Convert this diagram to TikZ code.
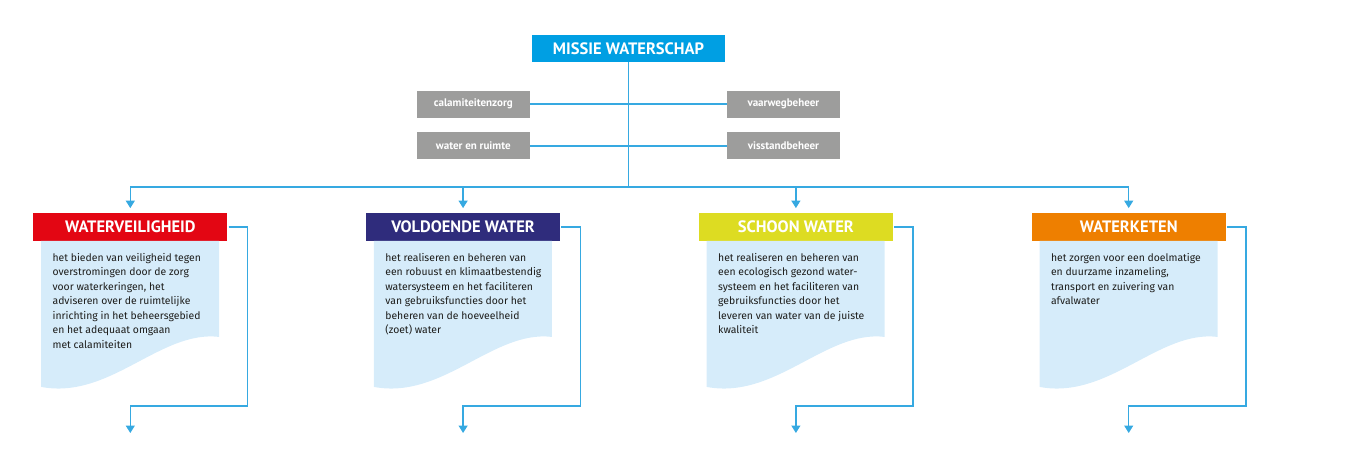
\documentclass[tikz,border=0pt]{standalone}
\usepackage{fontspec}
\setmainfont{PT Sans}
\newfontfamily\bladfont{Fira Sans}
\usetikzlibrary{positioning, arrows.meta, calc}
\definecolor{missieblauw}{HTML}{009FE3}
\definecolor{lijnblauw}{HTML}{36A9E1}
\definecolor{taakgrijs}{HTML}{9D9D9C}
\definecolor{blad}{HTML}{D6ECFA}
\definecolor{tekstzwart}{HTML}{1D1D1B}
\definecolor{veiligrood}{HTML}{E30613}
\definecolor{voldoendeblauw}{HTML}{2F2C7C}
\definecolor{schoongeel}{HTML}{DDDC22}
\definecolor{ketenoranje}{HTML}{EE7F00}
\tikzset{
	missie/.style={fill=missieblauw, text=white, minimum width=193pt, minimum height=27pt, inner sep=0pt, font=\bfseries\fontsize{16.5}{18}\selectfont}, % the mission box on top
	taak/.style={fill=taakgrijs, text=white, minimum width=113pt, minimum height=27pt, inner sep=0pt, font=\bfseries\fontsize{11}{12}\selectfont}, % grey task boxes
	kop/.style={text=white, minimum width=194pt, minimum height=27.4pt, inner sep=0pt, font=\bfseries\fontsize{16.5}{18}\selectfont}, % coloured headings
	tekst/.style={anchor=north west, inner sep=0pt, align=left, text=tekstzwart, font=\bladfont\fontsize{10.4}{14.5}\selectfont}, % text on the pages
	lijn/.style={draw=lijnblauw, line width=1.3pt}, % plain connector
	stroom/.style={lijn, -{Triangle[width=9pt, length=7.5pt]}}, % connector with arrow head
}

\begin{document}
\begin{tikzpicture}[x=1pt, y=-1pt]
	\useasboundingbox (0,0) rectangle (1347,451);

	\node[missie] (missie) at (628.5,48.5) {MISSIE WATERSCHAP};
	\node[taak] (calamiteit) at (473.3,104) {calamiteitenzorg};
	\node[taak, below=14.5pt of calamiteit] (ruimte) {water en ruimte};
	\node[taak, right=196.7pt of calamiteit] (vaarweg) {vaarwegbeheer};
	\node[taak, right=196.7pt of ruimte] (visstand) {visstandbeheer};

	\node[kop, fill=veiligrood] (veilig) at (130.3,227) {WATERVEILIGHEID};
	\node[kop, fill=voldoendeblauw, right=138.4pt of veilig] (voldoende) {VOLDOENDE WATER};
	\node[kop, fill=schoongeel, right=138.4pt of voldoende] (schoon) {SCHOON WATER};
	\node[kop, fill=ketenoranje, right=138.4pt of schoon] (keten) {WATERKETEN};

	\coordinate (verdeel) at (628.5,187);
	\draw[lijn] (missie.south) -- (verdeel);
	\draw[lijn] (calamiteit.east) -- (vaarweg.west);
	\draw[lijn] (ruimte.east) -- (visstand.west);
	\draw[lijn] (veilig |- verdeel) -- (keten |- verdeel);

	% pages, arrows in and out
	\foreach \k in {veilig, voldoende, schoon, keten} {
		\fill[blad] ($(\k.south west)+(8,0)$) -- ($(\k.south west)+(186,0)$) -- ($(\k.south west)+(186,96)$)
			.. controls ($(\k.south west)+(127,89)$) and ($(\k.south west)+(77,159)$) .. ($(\k.south west)+(8,146)$) -- cycle;
		\draw[stroom] (\k |- verdeel) -- ([yshift=5pt]\k.north);
		\coordinate (\k uit) at ($(\k.center)+(0,206)$);
		\draw[stroom] ([xshift=1pt]\k.east) -- ++(19,0) |- ($(\k uit)+(0,-27)$) -- (\k uit);
	}

	\node[tekst] (veiligtekst) at ($(veilig.south west)+(19.3,12)$) {het bieden van veiligheid tegen\\overstromingen door de zorg\\voor waterkeringen, het\\adviseren over de ruimtelijke\\inrichting in het beheersgebied\\en het adequaat omgaan\\met calamiteiten};
	\node[tekst] (voldoendetekst) at ($(voldoende.south west)+(19.3,12)$) {het realiseren en beheren van\\een robuust en klimaatbestendig\\watersysteem en het faciliteren\\van gebruiksfuncties door het\\beheren van de hoeveelheid\\(zoet) water};
	\node[tekst] (schoontekst) at ($(schoon.south west)+(19.3,12)$) {het realiseren en beheren van\\een ecologisch gezond water-\\systeem en het faciliteren van\\gebruiksfuncties door het\\leveren van water van de juiste\\kwaliteit};
	\node[tekst] (ketentekst) at ($(keten.south west)+(19.3,12)$) {het zorgen voor een doelmatige\\en duurzame inzameling,\\transport en zuivering van\\afvalwater};
\end{tikzpicture}
\end{document}
